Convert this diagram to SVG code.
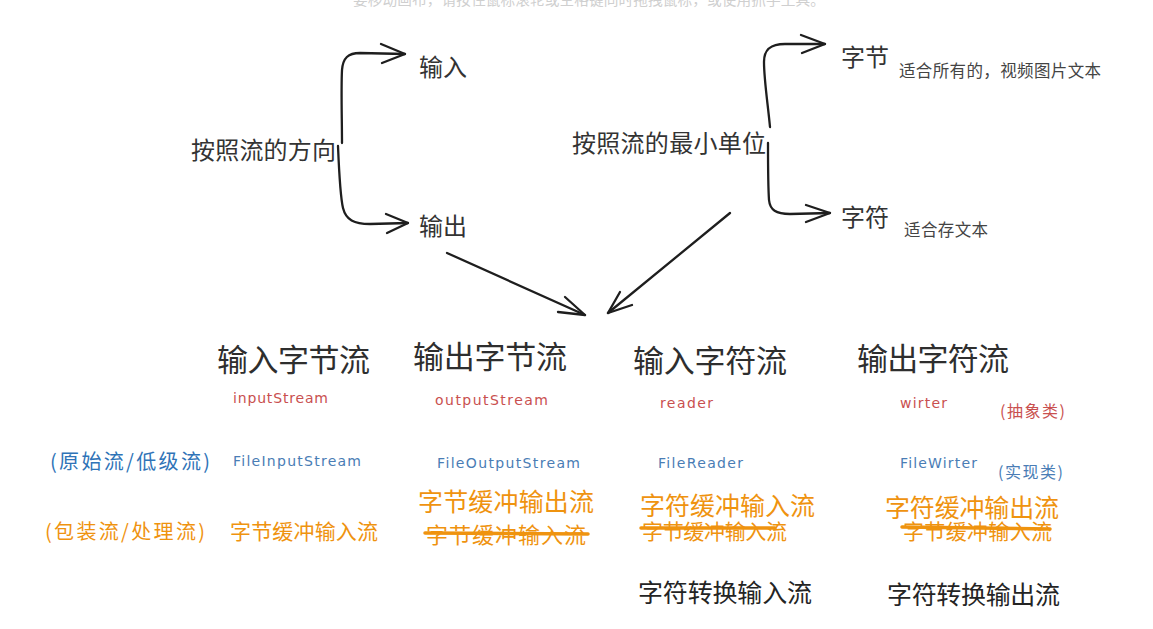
<svg xmlns="http://www.w3.org/2000/svg" width="1153" height="629" viewBox="0 0 1153 629">
<style>
text{font-family:"Noto Sans CJK SC","Noto Sans",sans-serif;dominant-baseline:central}
.t{fill:#333;font-size:24px}
.h{fill:#2e2e2e;font-size:31px}
.s{fill:#444;font-size:16.5px}
.hand{font-family:"DejaVu Sans","Noto Sans",sans-serif;font-size:14px}
.red{fill:#c9504f}
.blue{fill:#4a7db5}
.lblue{fill:#2f73b7;font-size:20px}
.or{fill:#ef930f}
.bk{fill:#242424;font-size:25px}
.ln{fill:none;stroke:#1e1e1e;stroke-width:2.3;stroke-linecap:round;stroke-linejoin:round}
.strike{stroke:#ef930f;stroke-width:3.5;stroke-linecap:round}
</style>
<rect width="1153" height="629" fill="#fff"/>
<text x="353" y="-2" font-size="14.7" fill="#cfcfcf" textLength="472">要移动画布，请按住鼠标滚轮或空格键同时拖拽鼠标，或使用抓手工具。</text>
<g id="connectors">
<path class="ln" d="M342,143 C342,120 341,90 342,70 C343,58 348,53 360,53 L405,54"/>
<path class="ln" d="M381,44 L405,54 L382,63"/>
<path class="ln" d="M338,146 C339,170 340,195 343,208 C346,220 354,224 370,224 L408,223"/>
<path class="ln" d="M386,214 L408,223 L387,233"/>
<path class="ln" d="M770,127 C768,105 764,80 764,62 C764,50 770,44 785,44 L825,44"/>
<path class="ln" d="M801,35 L825,44 L802,53"/>
<path class="ln" d="M768,143 C768,165 768,185 769,200 C770,210 776,214 790,214 L830,213"/>
<path class="ln" d="M806,205 L830,213 L806,222"/>
<path class="ln" stroke-width="2.6" d="M447,253 L585,315"/>
<path class="ln" d="M565,297 L585,315 L558,312"/>
<path class="ln" stroke-width="2.6" d="M730,213 L608,313"/>
<path class="ln" d="M620,292 L608,313 L632,305"/>
</g>
<g id="direction"><text class="t" x="191" y="148" textLength="145">按照流的方向</text></g>
<g id="input"><text class="t" x="419" y="65">输入</text></g>
<g id="output"><text class="t" x="419" y="224">输出</text></g>
<g id="unit"><text class="t" x="572" y="141" textLength="194">按照流的最小单位</text></g>
<g id="byte"><text class="t" x="841" y="55">字节</text><text class="s" x="899" y="70" textLength="202">适合所有的，视频图片文本</text></g>
<g id="char"><text class="t" x="841" y="215">字符</text><text class="s" x="904" y="229" textLength="84">适合存文本</text></g>
<g id="col-in-byte">
<text class="h" x="217" y="357" textLength="153">输入字节流</text>
<text class="hand red" x="233" y="398" textLength="95">inputStream</text>
<text class="hand blue" x="233" y="461" textLength="128">FileInputStream</text>
<text class="or" x="230" y="530" font-size="21" textLength="148">字节缓冲输入流</text>
</g>
<g id="col-out-byte">
<text class="h" x="413" y="354" textLength="154">输出字节流</text>
<text class="hand red" x="435" y="400" textLength="113">outputStream</text>
<text class="hand blue" x="437" y="463" textLength="143">FileOutputStream</text>
<text class="or" x="418" y="500" font-size="25" textLength="176">字节缓冲输出流</text>
<text class="or" x="426" y="533" font-size="22" textLength="160">字节缓冲输入流</text>
<line class="strike" x1="425" y1="533" x2="588" y2="534"/>
</g>
<g id="col-in-char">
<text class="h" x="633" y="358" textLength="154">输入字符流</text>
<text class="hand red" x="660" y="403" textLength="53">reader</text>
<text class="hand blue" x="658" y="463" textLength="85">FileReader</text>
<text class="or" x="640" y="504" font-size="25" textLength="175">字符缓冲输入流</text>
<text class="or" x="642" y="530" font-size="21" textLength="145">字节缓冲输入流</text>
<line class="strike" x1="641" y1="528" x2="775" y2="528"/>
<text class="bk" x="638" y="591" textLength="174">字符转换输入流</text>
</g>
<g id="col-out-char">
<text class="h" x="857" y="356" textLength="152">输出字符流</text>
<text class="hand red" x="900" y="403" textLength="47">wirter</text>
<text class="hand blue" x="900" y="463" textLength="77">FileWirter</text>
<text class="or" x="885" y="506" font-size="25" textLength="174">字符缓冲输出流</text>
<text class="or" x="903" y="530" font-size="21" textLength="149">字节缓冲输入流</text>
<line class="strike" x1="902" y1="527" x2="1050" y2="529"/>
<text class="bk" x="887" y="593" textLength="173">字符转换输出流</text>
</g>
<g id="abstract"><text class="red" x="1000" y="410" font-size="16" textLength="65">(抽象类)</text></g>
<g id="impl"><text class="blue" x="998" y="471" font-size="16" textLength="65">(实现类)</text></g>
<g id="primitive"><text class="lblue" x="50" y="460" textLength="160">(原始流/低级流)</text></g>
<g id="wrapper"><text class="or" x="45" y="530" font-size="20" textLength="160">(包装流/处理流)</text></g>
</svg>
